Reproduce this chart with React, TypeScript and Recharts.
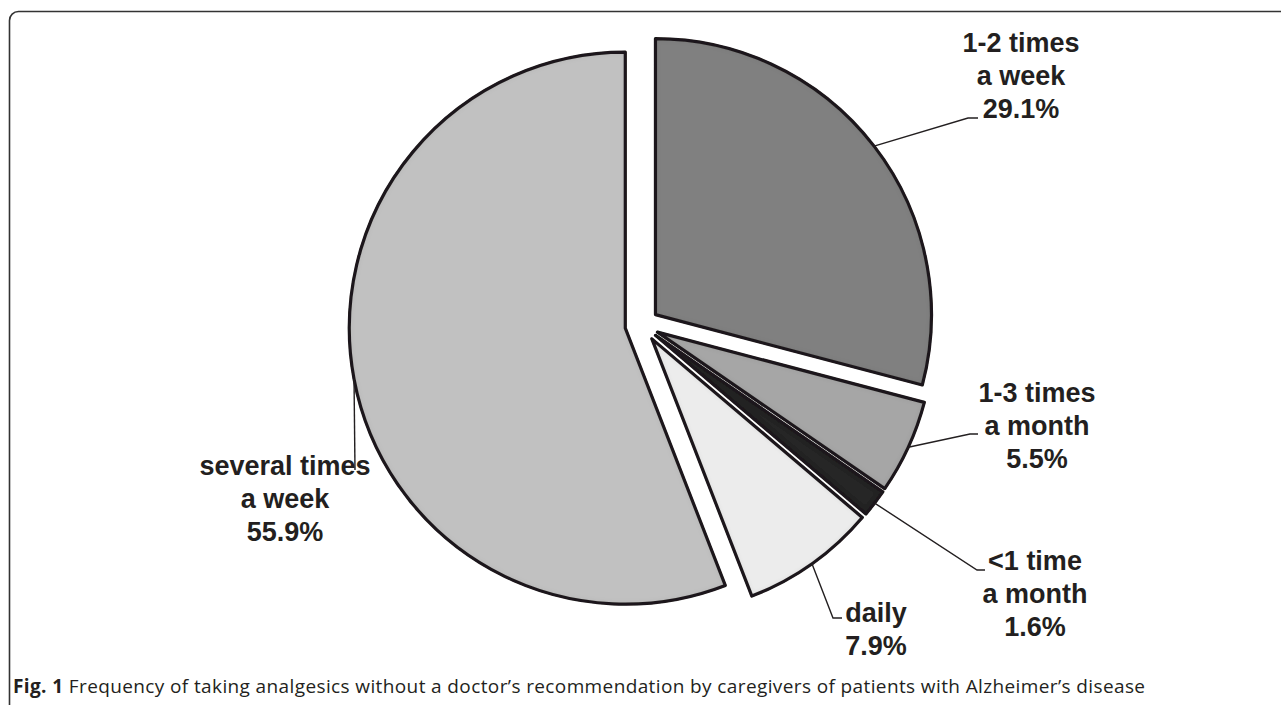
import React from 'react';
import { PieChart, Pie, Sector } from 'recharts';

const CATEGORIES = ['1-2 times a week', '1-3 times a month', '<1 time a month', 'daily', 'several times a week'];
const LABEL_LINES = [['1-2 times', 'a week'], ['1-3 times', 'a month'], ['<1 time', 'a month'], ['daily'], ['several times', 'a week']];
const VALUES = [29.1, 5.5, 1.6, 7.9, 55.9];

const COLORS = ['#808080', '#a6a6a6', '#262626', '#ececec', '#c1c1c1'];

const data = CATEGORIES.map((name, i) => ({ name, value: VALUES[i] }));

// leader line elbow, tail end x, label centre x, first baseline
const LABEL_LAYOUT = [
  { ex: 968, ey: 118, tail: 978, tx: 1021, ty: 52 },
  { ex: 970, ey: 434, tail: 978, tx: 1037, ty: 402 },
  { ex: 977, ey: 570, tail: 985, tx: 1035, ty: 570 },
  { ex: 833, ey: 618, tail: 842, tx: 876, ty: 622 },
  { ex: 355, ey: 470, tail: 355, tx: 285, ty: 475 },
];

const RAD = Math.PI / 180;
const EXPLODE = 17;
const LINE_H = 33;
const INK = '#231f20';

function SliceLabel(props: any) {
  const { cx, cy, midAngle, outerRadius, startAngle, endAngle, index } = props;
  const cos = Math.cos(-midAngle * RAD);
  const sin = Math.sin(-midAngle * RAD);
  const ox = cx + EXPLODE * cos;
  const oy = cy + EXPLODE * sin;
  const ax = ox + outerRadius * cos;
  const ay = oy + outerRadius * sin;
  const L = LABEL_LAYOUT[index];
  const lines = [...LABEL_LINES[index], `${VALUES[index]}%`];
  return (
    <g>
      <Sector
        cx={ox}
        cy={oy}
        innerRadius={0}
        outerRadius={outerRadius}
        startAngle={startAngle}
        endAngle={endAngle}
        fill={COLORS[index]}
        stroke={INK}
        strokeWidth={3.2}
        strokeLinejoin="round"
        filter="url(#bevel)"
      />
      <polyline
        points={`${ax},${ay} ${L.ex},${L.ey} ${L.tail},${L.ey}`}
        fill="none"
        stroke={INK}
        strokeWidth={1.4}
      />
      <text
        textAnchor="middle"
        fill={INK}
        fontFamily="'Liberation Sans', Arial, sans-serif"
        fontWeight="bold"
        fontSize={27}
      >
        {lines.map((t, k) => (
          <tspan key={k} x={L.tx} y={L.ty + k * LINE_H}>
            {t}
          </tspan>
        ))}
      </text>
    </g>
  );
}

export default function App() {
  return (
    <div style={{ position: 'absolute', left: 0, top: 0, width: 1281, height: 705, overflow: 'hidden', background: '#fff' }}>
      <svg width={1281} height={705} style={{ position: 'absolute', left: 0, top: 0 }}>
        <rect x={9.5} y={11.5} width={1400} height={900} rx={9} fill="none" stroke="#333" strokeWidth={1.6} />
        <text x={13} y={693} fontFamily="'Open Sans', 'Noto Sans', sans-serif" fontSize={19} fill={INK} textLength={1132} lengthAdjust="spacing">
          <tspan fontWeight="bold">Fig. 1</tspan>
          <tspan> Frequency of taking analgesics without a doctor’s recommendation by caregivers of patients with Alzheimer’s disease</tspan>
        </text>
      </svg>
      <div style={{ position: 'absolute', left: 0, top: 0 }}>
        <PieChart width={1281} height={705} margin={{ top: 0, right: 0, bottom: 0, left: 0 }}>
          <defs>
            <filter id="bevel" x="-10%" y="-10%" width="120%" height="120%">
              <feGaussianBlur in="SourceAlpha" stdDeviation="3" result="blur" />
              <feComposite in="SourceAlpha" in2="blur" operator="arithmetic" k2="1" k3="-1" result="edge" />
              <feFlood floodColor="#000" floodOpacity="0.45" />
              <feComposite in2="edge" operator="in" result="shadow" />
              <feMerge>
                <feMergeNode in="SourceGraphic" />
                <feMergeNode in="shadow" />
              </feMerge>
            </filter>
          </defs>
          <Pie
            data={data}
            dataKey="value"
            nameKey="name"
            cx={642}
            cy={325}
            innerRadius={0}
            outerRadius={276}
            startAngle={90}
            endAngle={-270}
            fill="none"
            stroke="none"
            label={SliceLabel}
            labelLine={false}
            isAnimationActive={false}
          />
        </PieChart>
      </div>
    </div>
  );
}
